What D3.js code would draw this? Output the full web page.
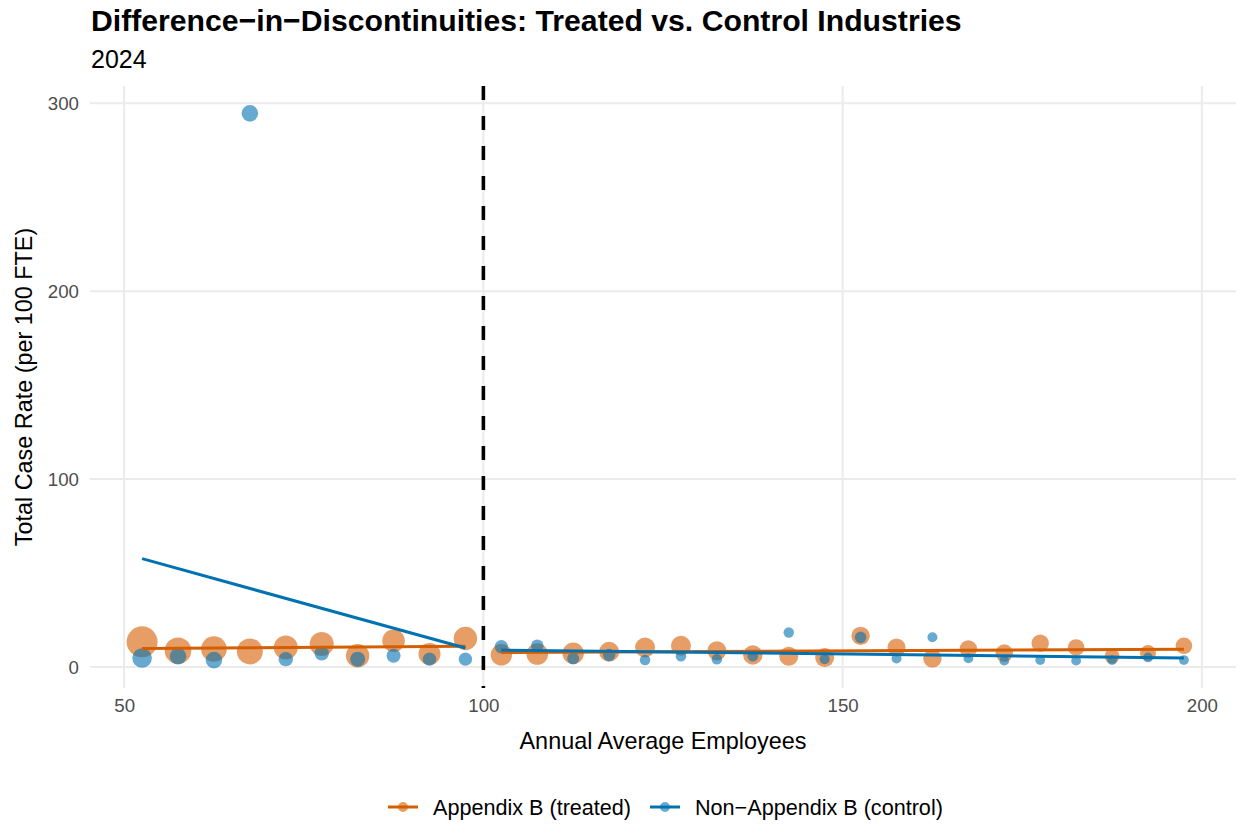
<!DOCTYPE html>
<html>
<head>
<meta charset="utf-8">
<script src="https://cdn.jsdelivr.net/npm/d3@7"></script>
<style>
  html, body { margin: 0; padding: 0; background: #ffffff; }
  svg { display: block; font-family: "Liberation Sans", Arial, Helvetica, sans-serif; }
</style>
</head>
<body>
<svg id="chart" width="1238" height="824"></svg>
<script>
// Bin midpoints of annual average employees (5-employee bins)
const binsLeft = [52.5, 57.5, 62.5, 67.5, 72.5, 77.5, 82.5, 87.5, 92.5, 97.5];
const binsRight = [102.5, 107.5, 112.5, 117.5, 122.5, 127.5, 132.5, 137.5, 142.5, 147.5,
                   152.5, 157.5, 162.5, 167.5, 172.5, 177.5, 182.5, 187.5, 192.5, 197.5];

// Mean total case rate per bin
const treatedLeft = [13.4, 8.7, 9.6, 8.3, 10.4, 12.2, 6.0, 14.0, 6.9, 15.2];
const controlLeft = [4.8, 5.7, 3.7, 294.6, 4.2, 7.3, 4.2, 6.0, 4.2, 4.2];
const treatedRight = [6.5, 6.9, 7.3, 8.1, 10.4, 11.3, 8.7, 6.4, 5.7, 5.1,
                      16.6, 10.4, 4.6, 9.6, 7.4, 12.7, 10.4, 5.7, 7.4, 11.3];
const controlRight = [10.8, 11.3, 4.6, 6.4, 3.7, 5.7, 4.2, 5.7, 18.4, 4.2,
                      15.8, 4.6, 15.8, 4.6, 3.4, 3.7, 3.4, 3.7, 5.1, 3.7];

// Establishments per bin (point size)
const treatedLeftN = [1000, 736, 682, 703, 599, 599, 570, 531, 504, 570];
const controlLeftN = [400, 287, 287, 287, 216, 216, 234, 204, 187, 187];
const treatedRightN = [477, 486, 477, 416, 416, 416, 376, 392, 376, 376,
                       352, 337, 352, 315, 322, 315, 287, 234, 266, 287];
const controlRightN = [187, 165, 150, 160, 117, 117, 117, 117, 113, 104,
                       140, 104, 104, 100, 100, 100, 100, 100, 100, 100];

const threshold = 100;
const xTicks = [50, 100, 150, 200];
const yTicks = [0, 100, 200, 300];
const groupNames = ["Appendix B (treated)", "Non\u2212Appendix B (control)"];
const groupColors = ["#D55E00", "#0072B2"];

const titleText = "Difference\u2212in\u2212Discontinuities: Treated vs. Control Industries";
const subtitleText = "2024";
const xTitle = "Annual Average Employees";
const yTitle = "Total Case Rate (per 100 FTE)";

// Assemble the series
function pts(bins, vals, ns) { return bins.map((b, i) => ({x: b, y: vals[i], n: ns[i]})); }
const series = [
  {g: 0, side: "L", data: pts(binsLeft, treatedLeft, treatedLeftN)},
  {g: 0, side: "R", data: pts(binsRight, treatedRight, treatedRightN)},
  {g: 1, side: "L", data: pts(binsLeft, controlLeft, controlLeftN)},
  {g: 1, side: "R", data: pts(binsRight, controlRight, controlRightN)}
];

// Ordinary least squares on each side of the cutoff
function olsLine(data) {
  const mx = d3.mean(data, d => d.x), my = d3.mean(data, d => d.y);
  const sxy = d3.sum(data, d => (d.x - mx) * (d.y - my));
  const sxx = d3.sum(data, d => (d.x - mx) ** 2);
  const b = sxy / sxx, a = my - b * mx;
  const [x0, x1] = d3.extent(data, d => d.x);
  return [{x: x0, y: a + b * x0}, {x: x1, y: a + b * x1}];
}

const svg = d3.select("#chart");
const panel = {left: 90, right: 1236, top: 86, bottom: 688};

function expand([lo, hi], f) { const d = (hi - lo) * f; return [lo - d, hi + d]; }
const allPts = series.flatMap(s => s.data);
const x = d3.scaleLinear()
  .domain(expand(d3.extent(allPts, d => d.x), 0.05))
  .range([panel.left, panel.right]);
const y = d3.scaleLinear()
  .domain(expand(d3.extent(allPts, d => d.y), 0.05))
  .range([panel.bottom, panel.top]);
const r = d3.scaleSqrt().domain([0, 1000]).range([0, 15.5]);

// Grid
const grid = svg.append("g");
grid.selectAll("line.vx").data(xTicks).join("line")
  .attr("x1", d => x(d)).attr("x2", d => x(d))
  .attr("y1", panel.top).attr("y2", panel.bottom)
  .attr("stroke", "#EBEBEB").attr("stroke-width", 2);
grid.selectAll("line.hy").data(yTicks).join("line")
  .attr("x1", panel.left).attr("x2", panel.right)
  .attr("y1", d => y(d)).attr("y2", d => y(d))
  .attr("stroke", "#EBEBEB").attr("stroke-width", 2);

// Axes (labels only)
const xAxis = svg.append("g")
  .attr("transform", `translate(0,${panel.bottom})`)
  .call(d3.axisBottom(x).tickValues(xTicks).tickSize(0).tickPadding(11));
const yAxis = svg.append("g")
  .attr("transform", `translate(${panel.left},0)`)
  .call(d3.axisLeft(y).tickValues(yTicks).tickSize(0).tickPadding(11));
[xAxis, yAxis].forEach(a => {
  a.select(".domain").remove();
  a.selectAll("text").attr("font-size", 18.7).attr("fill", "#4D4D4D")
    .attr("font-family", "Liberation Sans, Arial, sans-serif");
});

// Cutoff line
svg.append("line")
  .attr("x1", x(threshold)).attr("x2", x(threshold))
  .attr("y1", panel.top).attr("y2", panel.bottom)
  .attr("stroke", "#000").attr("stroke-width", 3.6)
  .attr("stroke-dasharray", "14,16");

// Points
const pointLayer = svg.append("g");
series.forEach(s => {
  pointLayer.append("g").selectAll("circle").data(s.data).join("circle")
    .attr("cx", d => x(d.x)).attr("cy", d => y(d.y)).attr("r", d => r(d.n))
    .attr("fill", groupColors[s.g]).attr("fill-opacity", 0.6);
});

// Fitted lines
const line = d3.line().x(d => x(d.x)).y(d => y(d.y));
series.forEach(s => {
  svg.append("path").datum(olsLine(s.data))
    .attr("d", line).attr("fill", "none")
    .attr("stroke", groupColors[s.g]).attr("stroke-width", 3);
});

// Titles
svg.append("text").attr("x", 91).attr("y", 31)
  .attr("font-size", 30.2).attr("font-weight", "bold").attr("fill", "#000")
  .text(titleText);
svg.append("text").attr("x", 91).attr("y", 68)
  .attr("font-size", 25).attr("fill", "#000")
  .text(subtitleText);
svg.append("text")
  .attr("x", (panel.left + panel.right) / 2).attr("y", 749)
  .attr("text-anchor", "middle").attr("font-size", 23.4).attr("fill", "#000")
  .text(xTitle);
svg.append("text")
  .attr("transform", `translate(32,${(panel.top + panel.bottom) / 2}) rotate(-90)`)
  .attr("text-anchor", "middle").attr("font-size", 23.4).attr("fill", "#000")
  .text(yTitle);

// Legend
const legend = svg.append("g").attr("transform", "translate(0,807)");
const legendX = [388, 650];
groupNames.forEach((name, i) => {
  const g = legend.append("g").attr("transform", `translate(${legendX[i]},0)`);
  g.append("line").attr("x1", 0).attr("x2", 30).attr("y1", 0).attr("y2", 0)
    .attr("stroke", groupColors[i]).attr("stroke-width", 3);
  g.append("circle").attr("cx", 15).attr("cy", 0).attr("r", 5)
    .attr("fill", groupColors[i]).attr("fill-opacity", 0.6);
  g.append("text").attr("x", 45).attr("y", 8)
    .attr("font-size", 21.6).attr("fill", "#000").text(name);
});
</script>
</body>
</html>
